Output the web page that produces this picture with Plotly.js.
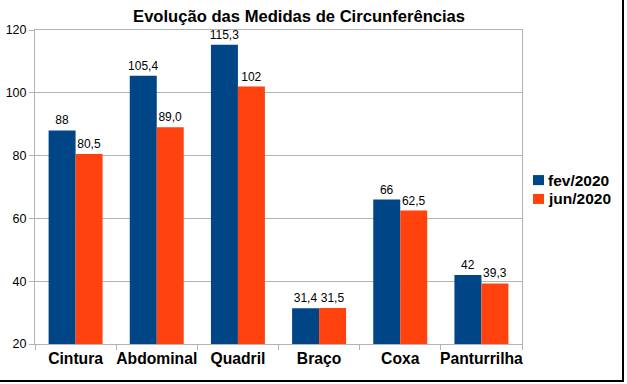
<!DOCTYPE html>
<html>
<head>
<meta charset="utf-8">
<script src="https://cdn.plot.ly/plotly-3.0.1.min.js"></script>
<style>
html,body{margin:0;padding:0;background:#fff;}
#chart{width:627px;height:384px;position:relative;}
#frame{position:absolute;left:0;top:0;width:622px;height:380px;border-right:2px solid #000;border-bottom:2px solid #000;pointer-events:none;}
</style>
</head>
<body>
<div id="chart"></div>
<div id="frame"></div>
<script>
const categories = ["Cintura", "Abdominal", "Quadril", "Braço", "Coxa", "Panturrilha"];
const seriesNames = ["fev/2020", "jun/2020"];
const fevValues = [88, 105.4, 115.3, 31.4, 66, 42];
const junValues = [80.5, 89.0, 102, 31.5, 62.5, 39.3];
const fevLabels = ["88", "105,4", "115,3", "31,4", "66", "42"];
const junLabels = ["80,5", "89,0", "102", "31,5", "62,5", "39,3"];
const yTicks = [20, 40, 60, 80, 100, 120];
const colors = ["#004586", "#ff420e"];

const font = "Liberation Sans, Arial, sans-serif";
function barTrace(name, values, labels, color) {
  return {type: "bar", name: name, x: categories, y: values, text: labels,
    textposition: "outside", textangle: 0, cliponaxis: false, constraintext: "none",
    textfont: {family: font, size: 12, color: "#000"},
    marker: {color: color}, hoverinfo: "skip", showlegend: false};
}
const traces = [
  barTrace(seriesNames[0], fevValues, fevLabels, colors[0]),
  barTrace(seriesNames[1], junValues, junLabels, colors[1])
];
// custom legend (swatch + label) placed right of the plot
const legendRowY = [0.522, 0.462];
const swatchHalf = 0.016;
const annotations = seriesNames.map((n, i) => ({
  xref: "paper", yref: "paper", x: 1.049, y: legendRowY[i], xanchor: "left", yanchor: "middle",
  showarrow: false, align: "left", text: "<b>" + n + "</b>",
  font: {family: font, size: 15.5, color: "#000"}
}));
const shapes = seriesNames.map((n, i) => ({
  type: "rect", xref: "paper", yref: "paper", x0: 1.0226, x1: 1.0452,
  y0: legendRowY[i] - swatchHalf, y1: legendRowY[i] + swatchHalf,
  fillcolor: colors[i], line: {width: 0}
}));
const layout = {
  width: 627, height: 384,
  margin: {l: 35, r: 105, t: 30, b: 40, pad: 0, autoexpand: false},
  paper_bgcolor: "#fff", plot_bgcolor: "#fff",
  font: {family: font, color: "#000"},
  title: {text: "<b>Evolução das Medidas de Circunferências</b>", font: {family: font, size: 16.6, color: "#000"},
          x: 0.477, xref: "container", xanchor: "center", y: 0.958, yref: "container", yanchor: "middle"},
  barmode: "group", bargap: 0.335, bargroupgap: 0,
  showlegend: false,
  annotations: annotations,
  shapes: shapes,
  xaxis: {type: "category", tickson: "boundaries", ticks: "outside", ticklen: 5, tickcolor: "#b3b3b3",
          showline: true, linecolor: "#b3b3b3", mirror: true, showgrid: false, tickangle: 0, automargin: false,
          tickfont: {family: font, size: 15.7, color: "#000"}, tickprefix: "<b>", ticksuffix: "</b>"},
  yaxis: {range: [20, 120], tickvals: yTicks, ticks: "outside", ticklen: 5, tickcolor: "#b3b3b3",
          showline: true, linecolor: "#b3b3b3", mirror: true, gridcolor: "#b3b3b3", zeroline: false, automargin: false,
          tickfont: {family: font, size: 12.5, color: "#000"}}
};
Plotly.newPlot("chart", traces, layout, {displayModeBar: false, staticPlot: true});
</script>
</body>
</html>
